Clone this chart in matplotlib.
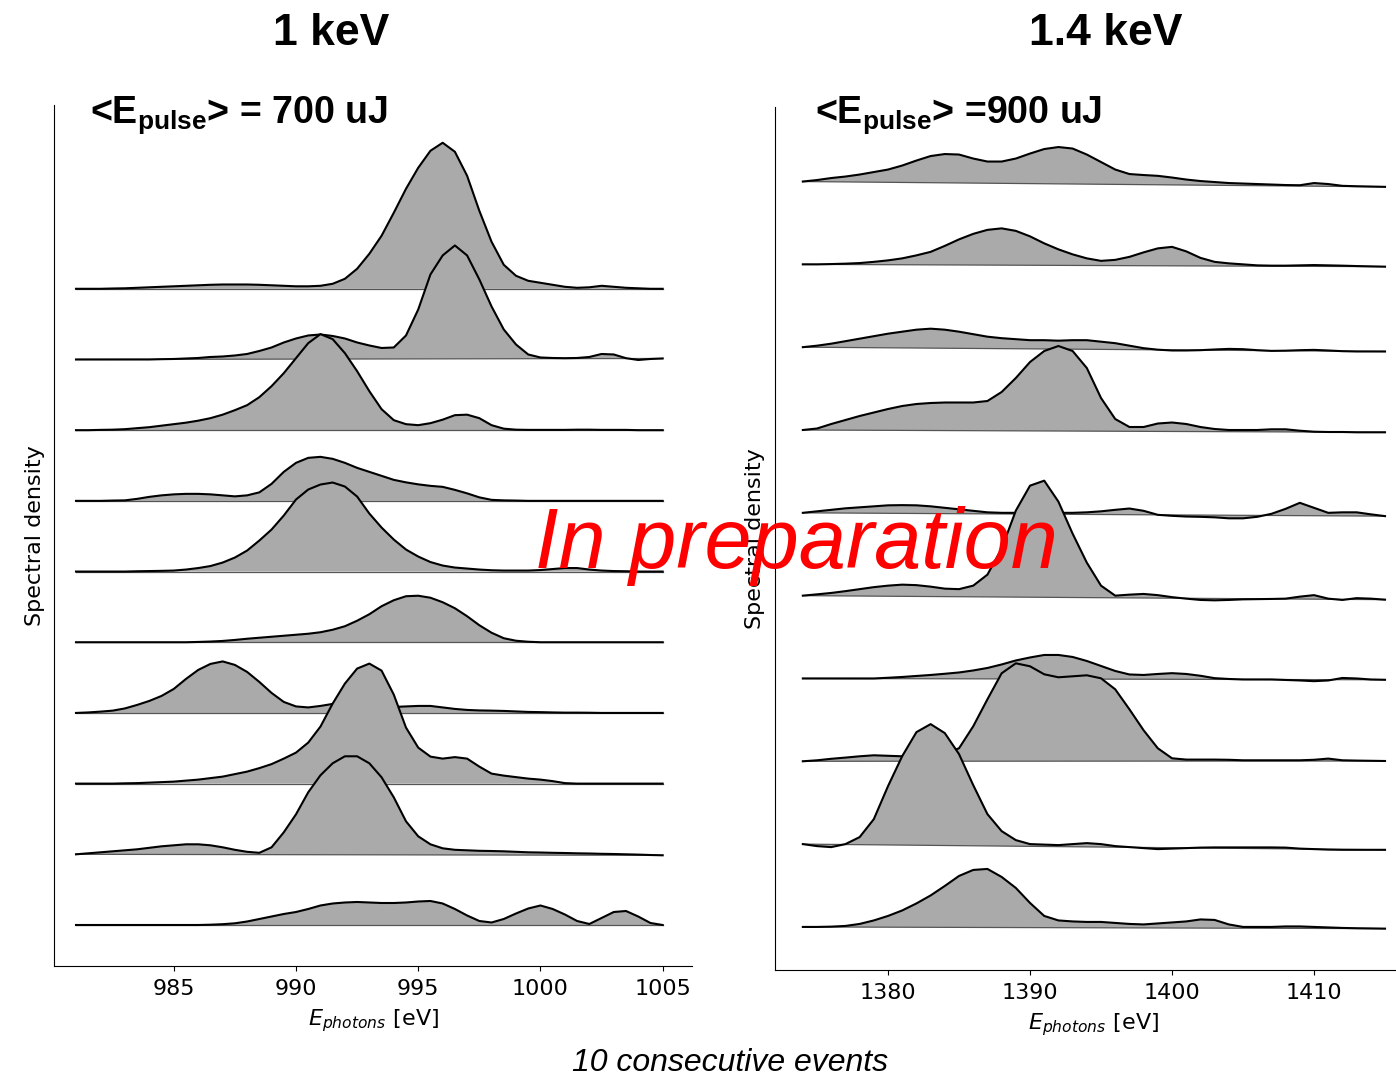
import numpy as np
from matplotlib import pyplot as plt

plt.rcParams['mathtext.rm'] = 'Liberation Sans:bold'
plt.rcParams['mathtext.it'] = 'Liberation Sans:italic:bold'
plt.rcParams['mathtext.bf'] = 'Liberation Sans:bold'

# photon energy grids (eV)
energy_1kev = np.arange(981.0, 1005.01, 0.5)
energy_14kev = np.arange(1374.0, 1415.01, 1.0)

# 1 keV, 10 consecutive single-shot spectra (a.u., top -> bottom)
spec_1kev = [
    [0, 0, 0, 0.3, 0.5, 1, 1.5, 2, 2.5, 3,
     3.5, 4, 4.3, 4.3, 4.3, 4, 3.5, 3, 2.5, 2.5,
     3, 5, 10, 20, 35, 53, 76, 100, 121, 138,
     146, 137, 113, 78, 47, 24, 13, 8, 6, 4,
     2, 1, 1.5, 3, 2, 1, 0.5, 0, 0],
    [0, 0, 0, 0, 0, 0, 0, 0.3, 0.5, 1,
     1.5, 2.5, 3, 4, 5.5, 8.5, 12, 17, 21, 24,
     25, 23.5, 21, 17, 14, 11.5, 12, 24, 50, 85,
     104, 114, 104, 80, 53, 30, 15, 5, 2, 1.5,
     1.3, 1.5, 2.5, 5.5, 5, 1.3, -0.5, 0.5, 1],
    [0, 0, 0.3, 0.5, 1, 2, 3, 4.5, 6, 7.5,
     9.5, 12, 15.5, 20, 25, 33, 44, 57, 72, 87,
     96, 91, 77, 59, 39, 21, 10, 6, 5, 7,
     10.5, 15, 15.5, 12, 5, 1.5, 0.5, 0.3, 0.3, 0.3,
     0.3, 0.5, 0.5, 0.3, 0.3, 0.3, 0, 0, 0],
    [0, 0, 0, 0.3, 0.5, 2, 4, 5.5, 6.5, 7,
     7, 6.5, 5.5, 4.5, 5.5, 8.5, 17, 29, 38, 43,
     44, 42, 38, 33, 29, 25, 21, 18.5, 16.5, 15,
     14, 11, 7.5, 3.5, 1, 0.5, 0.3, 0, 0, 0,
     0, 0, 0, 0, 0, 0, 0, 0, 0],
    [0, 0, 0, 0, 0, 0.3, 0.5, 0.7, 1, 2,
     3.5, 5.5, 9, 14, 21, 31, 42, 56, 72, 82,
     87, 89, 85, 75, 58, 44, 32, 22, 15, 9.5,
     6, 4, 3, 2, 1.3, 1, 1, 1, 1.5, 2.5,
     3.5, 3.5, 2, 1, 0.5, 0.3, 0, 0, 0],
    [0, 0, 0, 0, 0, 0, 0, 0, 0, 0,
     0.3, 0.7, 1.3, 2.3, 3.5, 4.5, 5.5, 6.5, 7.5, 8.5,
     10, 12.5, 16, 21.5, 28, 36, 42, 46, 46.5, 44.5,
     40, 34, 26, 17, 9.5, 4, 1.5, 0.5, 0, 0,
     0, 0, 0, 0, 0, 0, 0, 0, 0],
    [0, 0.5, 1.3, 2.3, 4.5, 8, 12, 17, 24, 34,
     43, 49, 51.5, 48, 41, 31, 20, 11, 6.5, 5.5,
     7, 9, 9, 8, 7, 6, 6, 6.5, 7, 7,
     5.5, 4, 3, 2.5, 2.3, 2, 1.5, 1, 0.8, 0.5,
     0.3, 0.3, 0.2, 0, 0, 0, 0, 0, 0],
    [0, 0, 0, 0, 0.3, 0.5, 1, 1.5, 2, 3,
     4, 5.5, 7, 9.5, 12, 15.5, 19.5, 25, 31, 41,
     57, 80, 100, 115, 120, 113, 89, 56, 36, 27,
     25, 26.5, 25, 17, 10, 8, 6.5, 5, 4, 2.5,
     0.5, 0, 0, 0, 0, 0, 0, 0, 0],
    [0, 1, 2, 3, 4, 5, 6.5, 8, 9, 10,
     10, 9, 7, 4.5, 2.5, 1.5, 7, 22, 40, 62,
     79, 91, 98, 98, 91, 77, 57, 33, 18, 10,
     6, 4.5, 4, 3.5, 3.3, 3, 2.5, 2, 1.8, 1.5,
     1.3, 1, 0.8, 0.5, 0.3, 0, -0.3, -0.7, -1],
    [0, 0, 0, 0, 0, 0, 0, 0, 0, 0,
     0, 0.3, 0.8, 1.7, 3.5, 6, 8.5, 11, 13, 16,
     19.5, 21.5, 22.5, 23, 22.5, 22, 22, 22.5, 23.5, 24,
     21.5, 16, 9.5, 4, 2.5, 6, 11.5, 16.5, 19.5, 16,
     10.5, 4, 1, 7, 13, 14, 8.5, 2, 0],
]

# 1.4 keV, 10 consecutive single-shot spectra (a.u., top -> bottom)
spec_14kev = [
    [0, 1.5, 3.5, 5, 7, 9.5, 12, 16, 21, 25.5,
     27.5, 27, 23, 20, 20, 23, 28, 32.5, 34.5, 33,
     27, 19.5, 12, 7.5, 6.5, 5.7, 4, 2, 0.5, -0.5,
     -1.5, -2, -2.5, -3, -3.5, -3.7, -1.5, -2.5, -4.3, -4.7,
     -5, -5.3],
    [0, 0, 0.3, 0.7, 1.3, 2.5, 4, 6, 9, 12.5,
     18.5, 25, 30.5, 34.5, 36, 33.5, 28, 21, 15, 10,
     6, 3.5, 4.5, 7.5, 12, 16, 17.5, 13, 6.5, 2.5,
     1, 0, -1, -1.3, -1.3, -1, -0.7, -1, -1.3, -1.7,
     -2, -2.3],
    [0, 1.5, 3.5, 6, 8.5, 11, 13.5, 15.5, 17.5, 18.5,
     17.5, 15.5, 13, 10.5, 9, 8, 7, 7, 6.5, 7,
     7, 5.5, 4, 1.5, -1, -2.5, -3.3, -3.3, -3, -2.3,
     -1.7, -2, -3, -3.7, -3.5, -3, -2.7, -3.3, -4, -4.3,
     -4.3, -4.3],
    [0, 1.5, 6, 10, 14, 17.5, 21, 24, 26, 27,
     27.5, 27.5, 27.5, 29, 38, 52, 68, 79, 84, 79,
     62, 32, 11, 3, 3, 6.5, 7.5, 6, 3, 1,
     0, 0, 0, 0.7, 0.7, -0.7, -1.7, -2, -2, -2.3,
     -2.3, -2.3],
    [0, 1.5, 3, 4.5, 5.5, 6.5, 7.5, 7.7, 7.5, 6.5,
     5, 3.5, 2, 0.5, 0, 0, 0, 0, 0, 0,
     0.5, 1.5, 3, 4.3, 2, -2, -3, -3.7, -4, -4.5,
     -5.5, -5.5, -4, -1, 4, 10, 5, 0, 0.5, 0.5,
     -1.5, -3.3],
    [0, 1.3, 2.7, 4.5, 6.5, 8.5, 10, 11, 10.5, 9,
     7, 6.5, 10, 21, 47, 85, 110, 115, 94, 62,
     33, 10, 0, 1, 1.7, 0.5, -1.5, -3, -4.3, -4.7,
     -4.3, -3.7, -3.5, -3.3, -3, -1, 0.5, -3, -4.3, -2.5,
     -3, -4],
    [0, 0, 0, 0, 0, 0, 0.7, 1.5, 2.5, 3.5,
     4.7, 6, 8, 10.5, 14, 18, 21, 23.5, 23.5, 21.5,
     17.5, 12.5, 7.5, 4, 3.5, 4.5, 5.3, 4.5, 2.7, 0.3,
     -0.5, -1, -1, -1, -1.5, -2, -2.7, -2, 0.5, 0,
     -1, -1.3],
    [0, 1, 2.5, 3.7, 5, 6, 5.5, 5, 5, 6,
     8, 13, 35, 62, 88, 98, 95, 87, 84, 85,
     86, 83, 72, 52, 31, 13, 3, 1.7, 1.7, 1.7,
     1.5, 1, 1, 1, 1, 1, 1.5, 2.7, 1, 0.7,
     0.5, 0.3],
    [0, -2, -3, 0, 7, 25, 58, 88, 112, 120,
     111, 90, 59, 30, 13, 4, 0, -0.5, -1, 0,
     1, 0, -2, -3, -4, -5, -4.5, -4, -3.5, -3.3,
     -3.3, -3.3, -3.3, -3.3, -3.5, -4.5, -5, -5.5, -5.7, -5.7,
     -5.7, -5.7],
    [0, 0, 0.3, 1, 3, 6.5, 11, 16.5, 23.5, 31.5,
     41, 51, 57, 58, 50, 39, 24, 11, 6.5, 5.5,
     5, 5, 4, 3, 2.5, 3.5, 4.5, 5.5, 7.5, 7,
     2.5, 0, 0, 0, 0.5, 0.5, 0, -0.5, -1, -1.3,
     -1.5, -1.7],
]


def draw_ridges(ax, energy, spectra, spacing):
    n = len(spectra)
    for k, spec in enumerate(spectra):
        spec = np.asarray(spec, dtype=float)
        off = n - 1 - k
        y = off + spec / spacing
        base = off + np.linspace(spec[0], spec[-1], len(spec)) / spacing
        ax.fill_between(energy, base, y, facecolor='#aaaaaa', edgecolor='none', zorder=2 * k + 1)
        ax.plot(energy, base, color='#555555', lw=0.9, zorder=2 * k + 1.2)
        ax.plot(energy, y, color='black', lw=1.5, zorder=2 * k + 1.5)


def style_axes(ax, ticks, pad):
    ax.spines['right'].set_color('none')
    ax.spines['top'].set_color('none')
    ax.set_xticks(ticks)
    ax.tick_params(axis='x', labelsize=16, pad=6)
    ax.tick_params(axis='y', left=False, labelleft=False)
    ax.set_xlabel(r'$E_{photons}$ [eV]', fontsize=16, labelpad=6)
    ax.set_ylabel('Spectral density', fontsize=16, labelpad=pad)


W, H = 1396, 1076
fig = plt.figure(figsize=(W / 100, H / 100), dpi=100)

ax1 = fig.add_axes([54 / W, 1 - 966 / H, 638 / W, 861 / H])
draw_ridges(ax1, energy_1kev, spec_1kev, 70.67)
ax1.set_xlim(980.1, 1006.2)
ax1.set_ylim(-0.58, 11.6)
style_axes(ax1, [985, 990, 995, 1000, 1005], 6.5)

ax2 = fig.add_axes([775 / W, 1 - 970 / H, 636 / W, 863 / H])
draw_ridges(ax2, energy_14kev, spec_14kev, 82.83)
ax2.set_xlim(1372.04, 1416.83)
ax2.set_ylim(-0.52, 9.9)
style_axes(ax2, [1380, 1390, 1400, 1410], 7)

# titles and annotations
fig.text(331 / W, 1 - 45 / H, '1 keV', fontsize=32, fontweight='bold',
         family='Liberation Sans', ha='center', va='baseline')
fig.text(1106 / W, 1 - 45 / H, '1.4 keV', fontsize=32, fontweight='bold',
         family='Liberation Sans', ha='center', va='baseline')
fig.text(90 / W, 1 - 123 / H, r'<E$_{\mathrm{pulse}}$> = 700 uJ', fontsize=27,
         fontweight='bold', family='Liberation Sans', math_fontfamily='custom',
         ha='left', va='baseline')
fig.text(815 / W, 1 - 123 / H, r'<E$_{\mathrm{pulse}}$> =900 uJ', fontsize=27,
         fontweight='bold', family='Liberation Sans', math_fontfamily='custom',
         ha='left', va='baseline')
fig.text(796 / W, 1 - 568 / H, 'In preparation', fontsize=61, color='red',
         style='italic', family='Liberation Sans', ha='center', va='baseline', zorder=50)
fig.text(730 / W, 1 - 1071 / H, '10 consecutive events', fontsize=23,
         style='italic', family='Liberation Sans', ha='center', va='baseline')

fig.savefig('out.png', dpi=100)
